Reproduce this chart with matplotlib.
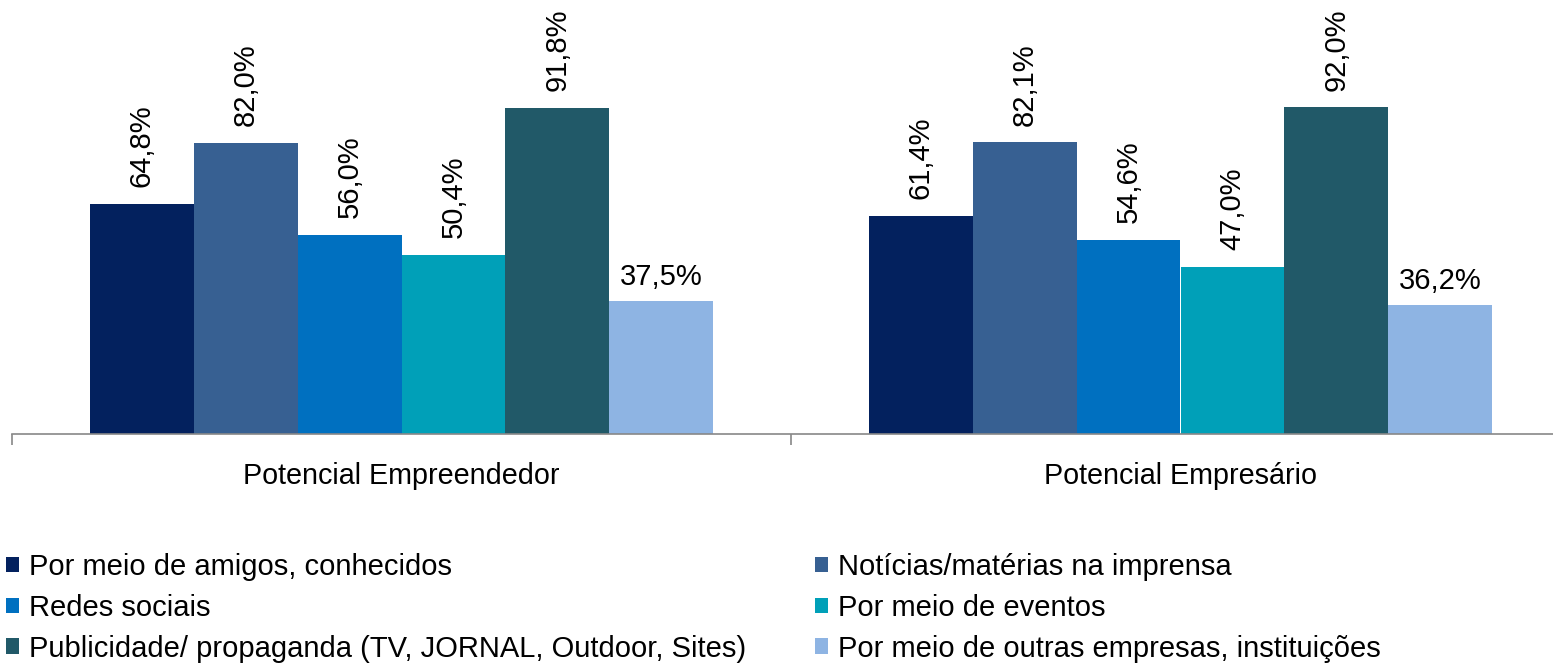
import matplotlib
matplotlib.use("Agg")
import matplotlib.pyplot as plt
import numpy as np
from matplotlib.patches import Patch

plt.rcParams['font.family'] = ['Liberation Sans', 'DejaVu Sans']

categories = ["Potencial Empreendedor", "Potencial Empresário"]
series_names = [
    "Por meio de amigos, conhecidos",
    "Notícias/matérias na imprensa",
    "Redes sociais",
    "Por meio de eventos",
    "Publicidade/ propaganda (TV, JORNAL, Outdoor, Sites)",
    "Por meio de outras empresas, instituições",
]
values = [
    [64.8, 61.4],
    [82.0, 82.1],
    [56.0, 54.6],
    [50.4, 47.0],
    [91.8, 92.0],
    [37.5, 36.2],
]
colors = ["#03215E", "#376092", "#0070C0", "#00A0B8", "#215968", "#8EB4E3"]

W, H = 1553, 670
fig = plt.figure(figsize=(W / 100, H / 100), dpi=100)
ax = fig.add_axes([12 / W, 1 - 434 / H, 1558 / W, 434 / H])

n = len(series_names)
bw = 0.8 / n
x = np.arange(len(categories))
for i, (name, vals, c) in enumerate(zip(series_names, values, colors)):
    pos = x - 0.4 + bw * (i + 0.5)
    ax.bar(pos, vals, width=bw, color=c, label=name, zorder=2)
    for p, v in zip(pos, vals):
        txt = f"{v:.1f}%".replace(".", ",")
        if i == n - 1:
            ax.text(p, v + 2.8, txt, ha="center", va="bottom", fontsize=21)
        else:
            ax.text(p, v + 4.7, txt, ha="center", va="bottom", rotation=90, fontsize=21)

ax.set_xlim(-0.5, 1.5)
ax.set_ylim(0, 434 / 3.552)
for s in ["top", "right", "left"]:
    ax.spines[s].set_visible(False)
ax.spines["bottom"].set_color("#888888")
ax.spines["bottom"].set_linewidth(1.2)
ax.set_yticks([])
ax.set_xticks(x)
ax.set_xticklabels(categories, fontsize=20.7)
ax.tick_params(axis="x", which="major", length=0, pad=20)
ax.set_xticks([-0.5, 0.5, 1.5], minor=True)
ax.tick_params(axis="x", which="minor", length=8, color="#888888", width=1.2)

handles = [Patch(facecolor=c, edgecolor="none") for c in colors]
order = [0, 2, 4, 1, 3, 5]
leg = fig.legend([handles[k] for k in order], [series_names[k] for k in order],
                 ncol=2, loc="upper left", bbox_to_anchor=(6 / W, 1 - 553 / H),
                 frameon=False, fontsize=21, handlelength=0.45, handleheight=0.45,
                 handletextpad=0.35, labelspacing=0.44, columnspacing=2.35,
                 borderaxespad=0, borderpad=0)

fig.savefig("out.png", dpi=100)
